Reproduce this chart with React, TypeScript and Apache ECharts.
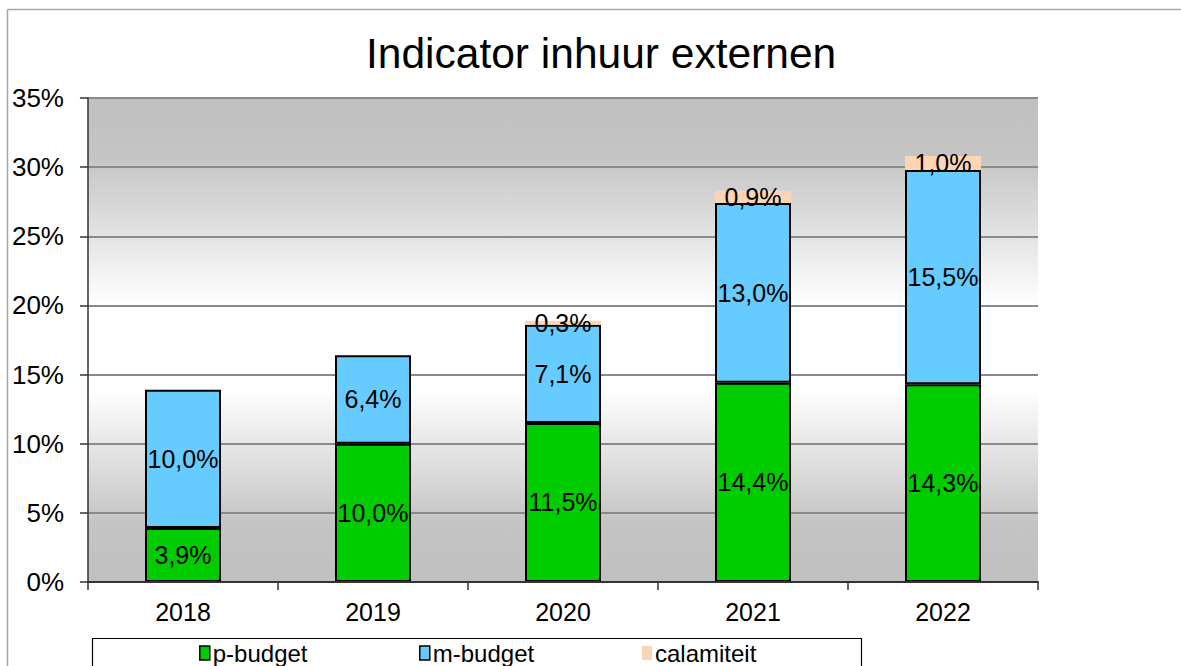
import React, { useEffect, useRef } from "react";
import * as echarts from "echarts";

const years = ["2018", "2019", "2020", "2021", "2022"];
const pBudget = [3.9, 10.0, 11.5, 14.4, 14.3];
const mBudget = [10.0, 6.4, 7.1, 13.0, 15.5];
const calamiteit: (number | null)[] = [null, null, 0.3, 0.9, 1.0];
const yTicks = { min: 0, max: 35, interval: 5 };

const FONT = "'Liberation Sans', Arial, sans-serif";

const fmt = (v: number) => v.toFixed(1).replace(".", ",") + "%";

export default function App() {
  const ref = useRef<HTMLDivElement>(null);
  useEffect(() => {
    if (!ref.current) return;
    const chart = echarts.init(ref.current, undefined, { renderer: "svg" });
    const labelCfg = {
      show: true,
      position: "inside" as const,
      color: "#000",
      fontSize: 25,
      fontFamily: FONT,
      formatter: (p: any) => (p.value == null || p.value === 0 ? "" : fmt(p.value)),
    };
    const legendBase = {
      top: 641,
      padding: 0,
      itemWidth: 10,
      itemHeight: 14,
      icon: "rect",
      textStyle: { fontSize: 24, fontFamily: FONT, color: "#000", padding: [0, 0, 0, -2] },
    };
    chart.setOption({
      animation: false,
      backgroundColor: "#fff",
      title: {
        text: "Indicator inhuur externen",
        left: 361,
        top: 27,
        textStyle: { fontSize: 42.5, fontWeight: "normal", fontFamily: FONT, color: "#000" },
      },
      legend: [
        { ...legendBase, left: 199, data: ["p-budget"], itemStyle: { borderColor: "#000", borderWidth: 1.5 } },
        { ...legendBase, left: 419, data: ["m-budget"], itemStyle: { borderColor: "#000", borderWidth: 1.5 } },
        { ...legendBase, left: 642, data: ["calamiteit"], itemStyle: { borderWidth: 0 } },
      ],
      grid: {
        left: 88,
        top: 98,
        right: 143,
        bottom: 84,
        show: true,
        borderWidth: 0,
        backgroundColor: new echarts.graphic.LinearGradient(0, 0, 0, 1, [
          { offset: 0, color: "#c0c0c0" },
          { offset: 0.12, color: "#c4c4c4" },
          { offset: 0.43, color: "#ffffff" },
          { offset: 0.6, color: "#ffffff" },
          { offset: 0.88, color: "#c4c4c4" },
          { offset: 1, color: "#c0c0c0" },
        ]),
      },
      xAxis: {
        type: "category",
        data: years,
        boundaryGap: true,
        axisLine: { lineStyle: { color: "#333", width: 2 } },
        axisTick: { show: true, length: 8, alignWithLabel: false, lineStyle: { color: "#333", width: 1.5 } },
        axisLabel: { fontSize: 25, fontFamily: FONT, color: "#000", margin: 17 },
        z: 10,
      },
      yAxis: {
        type: "value",
        min: yTicks.min,
        max: yTicks.max,
        interval: yTicks.interval,
        axisLine: { show: true, lineStyle: { color: "#333", width: 1.5 } },
        axisTick: { show: true, length: 8, lineStyle: { color: "#333", width: 1.5 } },
        axisLabel: { fontSize: 26, fontFamily: FONT, color: "#000", margin: 24, formatter: "{value}%" },
        splitLine: { show: true, lineStyle: { color: "#8a8a8a", width: 2 } },
      },
      series: [
        {
          name: "p-budget",
          type: "bar",
          stack: "total",
          barWidth: 76,
          data: pBudget,
          itemStyle: { color: "#00cc00", borderColor: "#000", borderWidth: 2 },
          label: labelCfg,
        },
        {
          name: "m-budget",
          type: "bar",
          stack: "total",
          barWidth: 76,
          data: mBudget,
          itemStyle: { color: "#66ccff", borderColor: "#000", borderWidth: 2 },
          label: labelCfg,
        },
        {
          name: "calamiteit",
          type: "bar",
          stack: "total",
          barWidth: 76,
          data: calamiteit,
          itemStyle: { color: "#fcd5b5", borderWidth: 0 },
          label: labelCfg,
        },
      ],
      graphic: [
        { type: "line", shape: { x1: 7.5, y1: 9.5, x2: 1181, y2: 9.5 }, style: { stroke: "#a6a6a6", lineWidth: 1.5 } },
        { type: "line", shape: { x1: 7.5, y1: 9.5, x2: 7.5, y2: 666 }, style: { stroke: "#a6a6a6", lineWidth: 1.5 } },
        { type: "rect", shape: { x: 92.5, y: 638.5, width: 769, height: 40 }, style: { fill: "none", stroke: "#000", lineWidth: 1.2 } },
      ],
    });
    return () => chart.dispose();
  }, []);
  return <div ref={ref} style={{ position: "absolute", left: 0, top: 0, width: 1181, height: 666 }} />;
}
